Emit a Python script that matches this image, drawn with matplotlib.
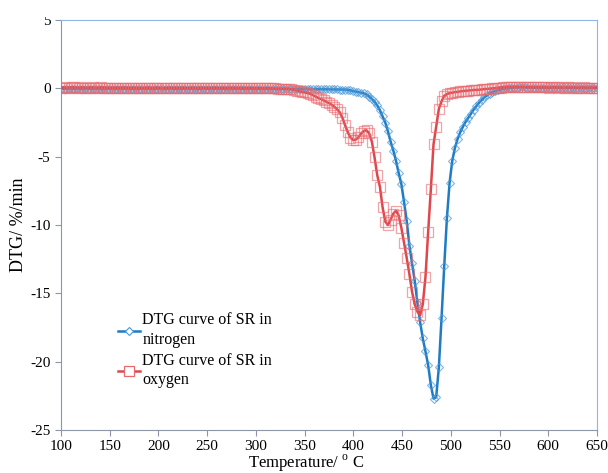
import matplotlib.pyplot as plt
from matplotlib.lines import Line2D
from matplotlib.transforms import Bbox

plt.rcParams['font.family'] = ['Liberation Serif', 'DejaVu Serif']
plt.rcParams['mathtext.fontset'] = 'custom'
plt.rcParams['mathtext.rm'] = 'Liberation Serif'
plt.rcParams['axes.unicode_minus'] = False

# sample temperatures (deg C), shared by both runs
temperature = [
    100, 102.75, 105.5, 108.25, 111, 113.75, 116.5, 119.25, 122, 124.75,
    127.5, 130.25, 133, 135.75, 138.5, 141.25, 144, 146.75, 149.5, 152.25,
    155, 157.75, 160.5, 163.25, 166, 168.75, 171.5, 174.25, 177, 179.75,
    182.5, 185.25, 188, 190.75, 193.5, 196.25, 199, 201.75, 204.5, 207.25,
    210, 212.75, 215.5, 218.25, 221, 223.75, 226.5, 229.25, 232, 234.75,
    237.5, 240.25, 243, 245.75, 248.5, 251.25, 254, 256.75, 259.5, 262.25,
    265, 267.75, 270.5, 273.25, 276, 278.75, 281.5, 284.25, 287, 289.75,
    292.5, 295.25, 298, 300.75, 303.5, 306.25, 309, 311.75, 314.5, 317.25,
    320, 322.75, 325.5, 328.25, 331, 333.75, 336.5, 339.25, 342, 344.75,
    347.5, 350.25, 353, 355.75, 358.5, 361.25, 364, 366.75, 369.5, 372.25,
    375, 377.75, 380.5, 383.25, 386, 388.75, 391.5, 394.25, 397, 399.75,
    402.5, 405.25, 408, 410.75, 413.5, 416.25, 419, 421.75, 424.5, 427.25,
    430, 432.75, 435.5, 438.25, 441, 443.75, 446.5, 449.25, 452, 454.75,
    457.5, 460.25, 463, 465.75, 468.5, 471.25, 474, 476.75, 479.5, 482.25,
    485, 487.75, 490.5, 493.25, 496, 498.75, 501.5, 504.25, 507, 509.75,
    512.5, 515.25, 518, 520.75, 523.5, 526.25, 529, 531.75, 534.5, 537.25,
    540, 542.75, 545.5, 548.25, 551, 553.75, 556.5, 559.25, 562, 564.75,
    567.5, 570.25, 573, 575.75, 578.5, 581.25, 584, 586.75, 589.5, 592.25,
    595, 597.75, 600.5, 603.25, 606, 608.75, 611.5, 614.25, 617, 619.75,
    622.5, 625.25, 628, 630.75, 633.5, 636.25, 639, 641.75, 644.5, 647.25,
    650,
]

# DTG (%/min) under nitrogen
dtg_nitrogen = [
    -0.03, -0.02, -0.04, -0.03, -0.05, -0.04, -0.03, -0.05, -0.06, -0.04,
    -0.03, -0.04, -0.05, -0.03, -0.04, -0.06, -0.05, -0.04, -0.03, -0.05,
    -0.04, -0.06, -0.05, -0.04, -0.03, -0.05, -0.04, -0.05, -0.06, -0.04,
    -0.03, -0.04, -0.05, -0.04, -0.06, -0.05, -0.03, -0.04, -0.05, -0.04,
    -0.05, -0.03, -0.04, -0.06, -0.05, -0.04, -0.05, -0.03, -0.04, -0.05,
    -0.04, -0.06, -0.05, -0.04, -0.03, -0.05, -0.04, -0.05, -0.04, -0.03,
    -0.05, -0.04, -0.06, -0.05, -0.04, -0.05, -0.03, -0.04, -0.05, -0.04,
    -0.05, -0.04, -0.05, -0.06, -0.04, -0.05, -0.04, -0.05, -0.05, -0.04,
    -0.05, -0.06, -0.05, -0.04, -0.05, -0.05, -0.06, -0.05, -0.05, -0.06,
    -0.05, -0.06, -0.06, -0.05, -0.06, -0.06, -0.07, -0.06, -0.07, -0.07,
    -0.07, -0.08, -0.08, -0.08, -0.09, -0.09, -0.09, -0.11, -0.15, -0.2,
    -0.24, -0.28, -0.32, -0.37, -0.45, -0.6, -0.78, -0.98, -1.25, -1.6,
    -2.05, -2.5, -3.15, -3.9, -4.55, -5.3, -6.2, -7.0, -8.3, -9.7,
    -11.5, -12.8, -14.1, -15.7, -17.1, -18.3, -19.25, -20.25, -21.7, -22.7,
    -22.6, -20.4, -16.8, -13.0, -9.5, -6.9, -5.3, -4.35, -3.7, -3.2,
    -2.8, -2.45, -2.15, -1.85, -1.55, -1.3, -1.05, -0.85, -0.66, -0.5,
    -0.38, -0.28, -0.2, -0.13, -0.08, -0.04, -0.01, 0.02, 0.03, 0.05,
    0.06, 0.07, 0.1, 0.08, 0.06, 0.05, 0.04, 0.05, 0.03, 0.04,
    0.03, 0.04, 0.02, 0.03, 0.04, 0.03, 0.02, 0.03, 0.04, 0.02,
    0.03, 0.02, 0.03, 0.02, 0.03, 0.02, 0.01, 0.02, 0.03, 0.02,
    0.02,
]

# DTG (%/min) under oxygen
dtg_oxygen = [
    0.06, 0.07, 0.05, 0.06, 0.08, 0.07, 0.06, 0.05, 0.07, 0.06,
    0.05, 0.06, 0.07, 0.05, 0.06, 0.07, 0.06, 0.05, 0.04, 0.06,
    0.05, 0.04, 0.05, 0.06, 0.04, 0.05, 0.03, 0.04, 0.05, 0.04,
    0.03, 0.04, 0.05, 0.04, 0.03, 0.04, 0.05, 0.04, 0.03, 0.04,
    0.04, 0.05, 0.04, 0.03, 0.04, 0.05, 0.04, 0.03, 0.04, 0.05,
    0.04, 0.03, 0.04, 0.05, 0.04, 0.03, 0.04, 0.05, 0.04, 0.03,
    0.04, 0.03, 0.04, 0.05, 0.04, 0.03, 0.04, 0.03, 0.02, 0.03,
    0.02, 0.03, 0.02, 0.01, 0.02, 0.01, 0.0, 0.01, 0.0, -0.01,
    -0.01, -0.02, -0.02, -0.03, -0.04, -0.04, -0.06, -0.11, -0.17, -0.22,
    -0.26, -0.3, -0.35, -0.4, -0.5, -0.6, -0.7, -0.78, -0.88, -0.98,
    -1.08, -1.2, -1.35, -1.52, -1.75, -2.15, -2.7, -3.2, -3.6, -3.78,
    -3.75, -3.58, -3.3, -3.12, -3.07, -3.3, -3.9, -5.05, -6.35, -7.2,
    -8.7, -9.75, -10.0, -9.6, -9.17, -8.95, -9.3, -10.2, -11.3, -12.4,
    -13.6, -14.9, -15.8, -16.35, -16.6, -15.8, -13.8, -10.5, -7.4, -4.1,
    -2.8, -1.5, -0.95, -0.55, -0.42, -0.35, -0.31, -0.28, -0.26, -0.22,
    -0.2, -0.18, -0.16, -0.14, -0.12, -0.11, -0.1, -0.08, -0.06, -0.04,
    -0.02, 0.0, 0.02, 0.04, 0.06, 0.08, 0.09, 0.1, 0.1, 0.11,
    0.1, 0.09, 0.1, 0.09, 0.08, 0.09, 0.08, 0.07, 0.08, 0.07,
    0.08, 0.07, 0.06, 0.07, 0.08, 0.07, 0.06, 0.07, 0.06, 0.07,
    0.06, 0.07, 0.06, 0.05, 0.06, 0.07, 0.06, 0.05, 0.06, 0.05,
    0.06,
]

blue = '#1f7cc4'
red = '#e0474c'

fig = plt.figure(figsize=(6.08, 4.73), dpi=100)
ax = fig.add_axes([0.1003, 0.0909, 0.8816, 0.8668])

ax.plot(temperature, dtg_nitrogen, color=blue, lw=1.8, zorder=2)
ax.plot(temperature, dtg_nitrogen, ls='none', marker='D', ms=4, mfc='none',
        mec='#4a97d6', mew=0.8, alpha=0.7, zorder=3)
ax.plot(temperature, dtg_oxygen, color=red, lw=1.8, zorder=4)
ax.plot(temperature, dtg_oxygen, ls='none', marker='s', ms=6.5, mfc='none',
        mec='#e86a6e', mew=0.9, alpha=0.6, zorder=5)

ax.set_xlim(100, 650)
ax.set_ylim(-25, 5)
ax.set_xticks(range(100, 651, 50))
ax.set_yticks(range(-25, 6, 5))
ax.tick_params(direction='out', length=4, width=0.8, labelsize=11,
               color='#8c96a8')

for side in ['left', 'bottom']:
    ax.spines[side].set_color('#8c96a8')
for side in ['top', 'right']:
    ax.spines[side].set_color('#8db6e4')

# top tick label sits under the figure's upper margin
fig.canvas.draw()
top_label = ax.get_yticklabels()[-1]
top_label.set_clip_box(Bbox.from_extents(0, 0, 608, 473 - 17))
top_label.set_clip_on(True)

ax.set_xlabel('Temperature/ $^{\\mathrm{o}}$ C', fontsize=12)
ax.xaxis.set_label_coords(0.457, -0.056)
ax.set_ylabel('DTG/ %/min', fontsize=13, labelpad=2)

handles = [
    Line2D([], [], color=blue, lw=1.8, marker='D', ms=4, mfc='white',
           mec='#4a97d6', mew=0.8),
    Line2D([], [], color=red, lw=1.8, marker='s', ms=6.5, mfc='white',
           mec='#e86a6e', mew=0.9),
]
labels = ['DTG curve of SR in\nnitrogen', 'DTG curve of SR in\noxygen']
leg = ax.legend(handles, labels, loc='upper left', bbox_to_anchor=(0.08, 0.322),
                frameon=False, fontsize=11.5, handlelength=1.35,
                handletextpad=0.15, labelspacing=0.3)
for t in leg.get_texts():
    t.set_linespacing(1.3)

fig.savefig('out.png', dpi=100)
